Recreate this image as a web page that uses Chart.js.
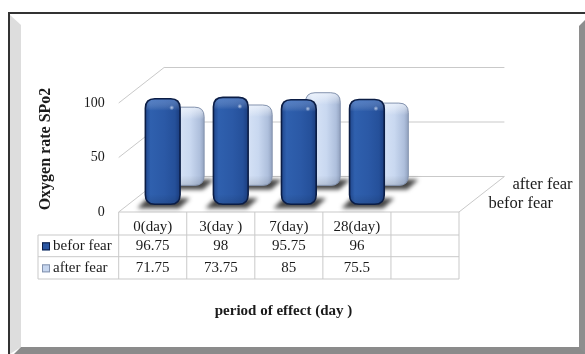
<!DOCTYPE html>
<html>
<head>
<meta charset="utf-8">
<script src="https://cdn.jsdelivr.net/npm/chart.js@4.4.1/dist/chart.umd.min.js"></script>
<style>
  html, body { margin: 0; padding: 0; background: #fff; }
  #wrap { width: 585px; height: 354px; position: relative; }
  canvas { display: block; }
</style>
</head>
<body>
<div id="wrap"><canvas id="chart" width="585" height="354"></canvas></div>
<script>
// ---- data ----
const categories = ['0(day)', '3(day )', '7(day)', '28(day)', ''];
const seriesNames = ['befor fear', 'after fear'];
const beforFear = [96.75, 98, 95.75, 96, null];
const afterFear = [71.75, 73.75, 85, 75.5, null];
const yTicks = [0, 50, 100];
const yTitle = 'Oxygen rate SPo2';
const xTitle = 'period of effect (day )';

// ---- look ----
const SERIF = '"Liberation Serif", "Times New Roman", Times, serif';
const INK = '#1b1b1b';
const LINE = '#c9c9c9';
const DEPTH = { dx: 45.4, dy: 35.5 };   // projected depth of the floor
const ROW_DEPTH = [0.22, 0.75];         // depth position of each series row

const columnStyles = [
  { // befor fear: dark blue
    stops: [[0, '#21478c'], [0.15, '#2f60ae'], [0.55, '#2b59a6'], [0.85, '#25509a'], [1, '#1b3d7e']],
    cap: 'rgba(120,160,225,0.45)', edge: '#0b1d45', lw: 1.6, key: '#2a56a2', spot: true
  },
  { // after fear: light blue
    stops: [[0, '#b6c8e7'], [0.2, '#d8e4f7'], [0.6, '#c9d8f0'], [0.88, '#aebfdc'], [1, '#92a2bf']],
    cap: 'rgba(245,249,255,0.7)', edge: '#8493ae', lw: 1, key: '#c6d6ef', spot: false
  }
];

function roundedPath(ctx, l, t, r, b, rad) {
  ctx.beginPath();
  ctx.moveTo(l + rad, t);
  ctx.lineTo(r - rad, t);
  ctx.quadraticCurveTo(r, t, r, t + rad);
  ctx.lineTo(r, b - rad);
  ctx.quadraticCurveTo(r, b, r - rad, b);
  ctx.lineTo(l + rad, b);
  ctx.quadraticCurveTo(l, b, l, b - rad);
  ctx.lineTo(l, t + rad);
  ctx.quadraticCurveTo(l, t, l + rad, t);
  ctx.closePath();
}

function drawFrame(ctx) {
  ctx.save();
  ctx.fillStyle = '#fff';
  ctx.fillRect(0, 0, 585, 354);
  // bevelled side bands
  ctx.fillStyle = '#dddddd';
  ctx.beginPath();
  ctx.moveTo(10, 15); ctx.lineTo(21, 25); ctx.lineTo(21, 347); ctx.lineTo(10, 354);
  ctx.closePath(); ctx.fill();
  ctx.fillStyle = '#8b8b8b';
  ctx.beginPath();
  ctx.moveTo(21, 347); ctx.lineTo(585, 347); ctx.lineTo(585, 354); ctx.lineTo(14, 354);
  ctx.closePath(); ctx.fill();
  ctx.fillStyle = '#8e8e8e';
  ctx.beginPath();
  ctx.moveTo(579, 26); ctx.lineTo(585, 20); ctx.lineTo(585, 354); ctx.lineTo(579, 347);
  ctx.closePath(); ctx.fill();
  // dark outer edges
  ctx.fillStyle = '#333';
  ctx.fillRect(8, 12, 577, 2);
  ctx.fillRect(8, 12, 2, 342);
  ctx.restore();
}

function drawWalls(chart) {
  const { ctx, chartArea: ca, scales: { y } } = chart;
  ctx.save();
  ctx.strokeStyle = LINE;
  ctx.lineWidth = 1;
  yTicks.forEach(v => {
    const py = y.getPixelForValue(v);
    ctx.beginPath();
    ctx.moveTo(ca.left, py);
    ctx.lineTo(ca.left + DEPTH.dx, py - DEPTH.dy);
    ctx.lineTo(ca.right + DEPTH.dx, py - DEPTH.dy);
    ctx.stroke();
  });
  // floor front and right edges
  ctx.beginPath();
  ctx.moveTo(ca.left, ca.bottom);
  ctx.lineTo(ca.right, ca.bottom);
  ctx.lineTo(ca.right + DEPTH.dx, ca.bottom - DEPTH.dy);
  ctx.stroke();
  ctx.restore();
}

function drawShadow(ctx, cx, base, w) {
  ctx.save();
  ctx.filter = 'blur(2px)';
  ctx.fillStyle = 'rgba(35,35,35,0.85)';
  ctx.beginPath();
  ctx.moveTo(cx - w / 2 - 8, base + 4);
  ctx.lineTo(cx + w / 2 - 1, base + 4);
  ctx.lineTo(cx + w / 2 + 10, base - 6);
  ctx.lineTo(cx - w / 2 + 2, base - 6);
  ctx.closePath();
  ctx.fill();
  ctx.restore();
}

function drawColumn(ctx, cx, top, base, w, st) {
  const l = cx - w / 2, r = cx + w / 2;
  const rad = Math.min(9.5, w * 0.28);
  ctx.save();
  roundedPath(ctx, l, top, r, base, rad);
  const g = ctx.createLinearGradient(l, 0, r, 0);
  st.stops.forEach(([o, c]) => g.addColorStop(o, c));
  ctx.fillStyle = g;
  ctx.fill();
  ctx.save();
  ctx.clip();
  const gv = ctx.createLinearGradient(0, top, 0, top + 12);
  gv.addColorStop(0, st.cap);
  gv.addColorStop(1, 'rgba(255,255,255,0)');
  ctx.fillStyle = gv;
  ctx.fillRect(l, top, w, 12);
  const gb = ctx.createLinearGradient(0, base - 10, 0, base);
  gb.addColorStop(0, 'rgba(0,0,0,0)');
  gb.addColorStop(1, 'rgba(0,0,0,0.12)');
  ctx.fillStyle = gb;
  ctx.fillRect(l, base - 10, w, 10);
  ctx.restore();
  ctx.lineWidth = st.lw;
  ctx.strokeStyle = st.edge;
  ctx.stroke();
  if (st.spot) {
    const sx = cx + w * 0.26, sy = top + 9;
    const rg = ctx.createRadialGradient(sx, sy, 0, sx, sy, 2.5);
    rg.addColorStop(0, 'rgba(235,242,255,0.7)');
    rg.addColorStop(1, 'rgba(235,242,255,0)');
    ctx.fillStyle = rg;
    ctx.fillRect(sx - 3, sy - 3, 6, 6);
  }
  ctx.restore();
}

function drawColumns(chart) {
  const ctx = chart.ctx;
  [1, 0].forEach(di => {
    const meta = chart.getDatasetMeta(di);
    const values = chart.data.datasets[di].data;
    const ox = ROW_DEPTH[di] * DEPTH.dx, oy = -ROW_DEPTH[di] * DEPTH.dy;
    const bars = meta.data.map((el, i) => values[i] == null ? null :
      el.getProps(['x', 'y', 'base', 'width'], true)).filter(Boolean);
    bars.forEach(b => drawShadow(ctx, b.x + ox, b.base + oy, b.width));
    bars.forEach(b => drawColumn(ctx, b.x + ox, b.y + oy, b.base + oy, b.width, columnStyles[di]));
  });
}

function drawTable(chart) {
  const { ctx, chartArea: ca, scales: { x } } = chart;
  const rows = [ca.bottom, ca.bottom + 23, ca.bottom + 44.7, ca.bottom + 67];
  const labelLeft = 38;
  const n = categories.length;
  const edges = [ca.left];
  for (let i = 0; i < n - 1; i++) edges.push((x.getPixelForValue(i) + x.getPixelForValue(i + 1)) / 2);
  edges.push(ca.right);

  ctx.save();
  ctx.strokeStyle = LINE;
  ctx.lineWidth = 1;
  ctx.beginPath();
  for (let k = 1; k < rows.length; k++) {
    ctx.moveTo(labelLeft, rows[k]);
    ctx.lineTo(ca.right, rows[k]);
  }
  ctx.moveTo(labelLeft, rows[1]);
  ctx.lineTo(labelLeft, rows[3]);
  edges.forEach(ex => { ctx.moveTo(ex, rows[0]); ctx.lineTo(ex, rows[3]); });
  ctx.stroke();

  ctx.fillStyle = INK;
  ctx.textBaseline = 'middle';
  ctx.font = '15px ' + SERIF;
  [beforFear, afterFear].forEach((vals, di) => {
    const cy = (rows[di + 1] + rows[di + 2]) / 2 + 0.5;
    // legend key
    const st = columnStyles[di];
    ctx.fillStyle = st.key;
    ctx.fillRect(42, cy - 4, 8, 8);
    ctx.strokeStyle = st.edge;
    ctx.lineWidth = 1;
    ctx.strokeRect(42.5, cy - 3.5, 7, 7);
    ctx.fillStyle = INK;
    ctx.textAlign = 'left';
    ctx.fillText(seriesNames[di], 53, cy);
    ctx.textAlign = 'center';
    vals.forEach((v, i) => {
      if (v == null) return;
      ctx.fillText(String(v), x.getPixelForValue(i), cy);
    });
  });
  ctx.restore();
}

function drawDepthLabels(chart) {
  const { ctx, chartArea: ca } = chart;
  ctx.save();
  ctx.fillStyle = INK;
  ctx.font = '16.5px ' + SERIF;
  ctx.textAlign = 'left';
  ctx.textBaseline = 'middle';
  ROW_DEPTH.forEach((f, di) => {
    ctx.fillText(seriesNames[di], ca.right + f * DEPTH.dx + 19.5, ca.bottom - f * DEPTH.dy - 1);
  });
  ctx.restore();
}

function drawTitles(chart) {
  const ctx = chart.ctx;
  ctx.save();
  ctx.fillStyle = INK;
  ctx.font = 'bold 15px ' + SERIF;
  ctx.textAlign = 'center';
  ctx.textBaseline = 'middle';
  ctx.fillText(xTitle, 283.5, 311.5);
  ctx.translate(46, 149);
  ctx.rotate(-Math.PI / 2);
  ctx.font = 'bold 16px ' + SERIF;
  ctx.fillText(yTitle, 0, 0);
  ctx.restore();
}

const depthPlugin = {
  id: 'depth3d',
  beforeDraw(chart) { drawFrame(chart.ctx); drawWalls(chart); },
  beforeDatasetsDraw(chart) { drawColumns(chart); return false; },
  afterDraw(chart) { drawTable(chart); drawDepthLabels(chart); drawTitles(chart); }
};

new Chart(document.getElementById('chart'), {
  type: 'bar',
  data: {
    labels: categories,
    datasets: [
      { label: seriesNames[0], data: beforFear, backgroundColor: '#2a56a2' },
      { label: seriesNames[1], data: afterFear, backgroundColor: '#c6d6ef' }
    ]
  },
  options: {
    responsive: false,
    animation: false,
    devicePixelRatio: 1,
    layout: { padding: { top: 103, right: 126, left: 0, bottom: 0 } },
    datasets: { bar: { grouped: false, categoryPercentage: 1, barPercentage: 0.51 } },
    plugins: { legend: { display: false }, tooltip: { enabled: false } },
    scales: {
      x: {
        offset: true,
        grid: { display: false, drawTicks: false },
        border: { display: false },
        ticks: { font: { family: SERIF, size: 15 }, color: INK, padding: 6, maxRotation: 0, autoSkip: false },
        afterFit: s => { s.height = 142; }
      },
      y: {
        min: 0, max: 100,
        afterBuildTicks: s => { s.ticks = yTicks.map(v => ({ value: v })); },
        grid: { display: false, drawTicks: false },
        border: { display: false },
        ticks: { font: { family: SERIF, size: 14 }, color: INK, padding: 14 },
        afterFit: s => { s.width = 118.7; }
      }
    }
  },
  plugins: [depthPlugin]
});
</script>
</body>
</html>
